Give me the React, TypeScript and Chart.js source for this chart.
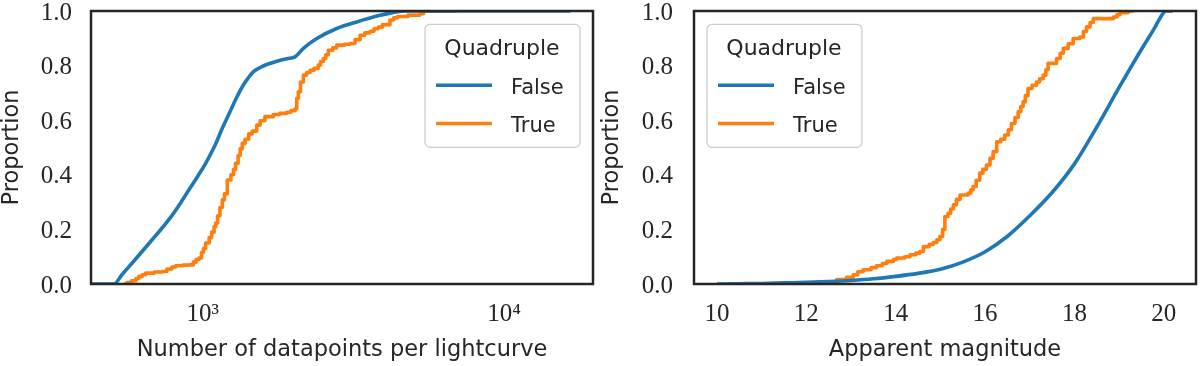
import React, { useEffect, useRef } from "react";
import { Chart, registerables } from "chart.js";

Chart.register(...registerables);

// ---------- data ----------
const legendTitle = "Quadruple";
const seriesLabels = ["False", "True"];

// Left panel: number of datapoints per lightcurve (log axis)
const nptsFalseX = [426, 507, 540, 583, 630, 679, 735, 793, 845, 900, 960, 1022, 1100, 1160, 1231, 1295, 1362, 1420, 1471, 1550, 1630, 1740, 1850, 1940, 2023, 2157, 2389, 2782, 3243, 3875, 4300, 4700, 16600];
const nptsFalseY = [0, 0, 0.035, 0.077, 0.12, 0.162, 0.207, 0.253, 0.298, 0.345, 0.393, 0.442, 0.51, 0.57, 0.631, 0.683, 0.728, 0.757, 0.777, 0.793, 0.804, 0.814, 0.822, 0.827, 0.832, 0.863, 0.899, 0.936, 0.96, 0.984, 0.995, 1.0, 1.0];

const nptsTrueX = [547, 560, 580, 600, 614, 630, 646, 690, 734, 760, 790, 813, 860, 900, 930, 950, 971, 990, 1005, 1022, 1050, 1070, 1090, 1104, 1120, 1140, 1161, 1180, 1206, 1240, 1265, 1285, 1310, 1330, 1352, 1381, 1420, 1459, 1510, 1550, 1607, 1714, 1800, 1898, 1960, 2023, 2050, 2075, 2110, 2157, 2210, 2270, 2340, 2417, 2460, 2512, 2560, 2610, 2700, 2782, 2950, 3081, 3200, 3327, 3450, 3589, 3700, 3823, 3950, 4180, 4300, 4430, 4800, 5260, 5400, 6950];
const nptsTrueY = [0, 0.005, 0.012, 0.02, 0.028, 0.034, 0.04, 0.044, 0.046, 0.055, 0.062, 0.067, 0.069, 0.07, 0.08, 0.09, 0.095, 0.115, 0.13, 0.15, 0.17, 0.19, 0.21, 0.223, 0.25, 0.28, 0.308, 0.33, 0.381, 0.4, 0.42, 0.442, 0.47, 0.495, 0.515, 0.53, 0.55, 0.56, 0.582, 0.598, 0.613, 0.621, 0.625, 0.629, 0.635, 0.641, 0.68, 0.704, 0.74, 0.765, 0.775, 0.783, 0.79, 0.802, 0.815, 0.826, 0.84, 0.856, 0.865, 0.875, 0.878, 0.881, 0.895, 0.911, 0.92, 0.926, 0.935, 0.941, 0.95, 0.967, 0.975, 0.98, 0.985, 0.99, 1.0, 1.0];

const nptsAxisMin = 425.6;
const nptsAxisMax = 19720;
const nptsTickValues = [1000, 10000];
const nptsTickLabels = ["10\u00B3", "10\u2074"];

// Right panel: apparent magnitude
const magFalseX = [10.0, 10.5, 11.0, 11.5, 12.0, 12.5, 13.0, 13.5, 14.0, 14.5, 15.0, 15.5, 16.0, 16.5, 17.0, 17.5, 18.0, 18.5, 19.0, 19.5, 19.8, 19.9, 20.05, 20.2];
const magFalseY = [0, 0.001, 0.002, 0.004, 0.006, 0.009, 0.013, 0.019, 0.028, 0.039, 0.054, 0.08, 0.118, 0.175, 0.25, 0.335, 0.44, 0.575, 0.72, 0.86, 0.94, 0.97, 1.0, 1.0];

const magTrueX = [12.6, 12.68, 12.9, 13.05, 13.15, 13.27, 13.45, 13.57, 13.7, 13.8, 13.95, 14.02, 14.2, 14.32, 14.45, 14.54, 14.62, 14.75, 14.84, 14.92, 14.99, 15.05, 15.1, 15.17, 15.23, 15.29, 15.36, 15.44, 15.62, 15.68, 15.73, 15.8, 15.88, 15.95, 16.03, 16.11, 16.18, 16.26, 16.35, 16.44, 16.52, 16.59, 16.67, 16.74, 16.8, 16.85, 16.9, 16.96, 17.05, 17.15, 17.22, 17.3, 17.36, 17.41, 17.6, 17.68, 17.75, 17.86, 17.97, 18.12, 18.2, 18.27, 18.35, 18.42, 18.87, 18.95, 19.02, 19.2, 19.32];
const magTrueY = [0, 0.016, 0.025, 0.034, 0.045, 0.052, 0.06, 0.067, 0.075, 0.083, 0.09, 0.095, 0.1, 0.107, 0.113, 0.119, 0.137, 0.145, 0.152, 0.162, 0.174, 0.2, 0.247, 0.259, 0.275, 0.29, 0.31, 0.326, 0.333, 0.345, 0.357, 0.38, 0.406, 0.42, 0.436, 0.46, 0.485, 0.521, 0.53, 0.546, 0.565, 0.588, 0.61, 0.631, 0.65, 0.667, 0.69, 0.716, 0.728, 0.74, 0.752, 0.765, 0.785, 0.808, 0.826, 0.845, 0.863, 0.88, 0.899, 0.905, 0.925, 0.942, 0.958, 0.972, 0.978, 0.986, 0.994, 1.0, 1.0];

const magAxisMin = 9.485;
const magAxisMax = 20.72;
const magTickValues = [10, 12, 14, 16, 18, 20];

const propTickValues = [0, 0.2, 0.4, 0.6, 0.8, 1.0];

const xTitleLeft = "Number of datapoints per lightcurve";
const xTitleRight = "Apparent magnitude";
const yTitle = "Proportion";

// ---------- styling ----------
const BLUE = "#1f77b4";
const ORANGE = "#ff7f0e";
const INK = "#262626";
const SANS = "'DejaVu Sans', sans-serif";
const SERIF = "'Liberation Serif', 'DejaVu Serif', serif";

function pts(xs: number[], ys: number[]) {
  return xs.map((x, i) => ({ x, y: ys[i] }));
}

function framePlugin(side: "left" | "right") {
  return {
    id: "frameAndLegend",
    afterDraw(chart: any) {
      const { ctx, chartArea: a } = chart;
      ctx.save();
      // spines
      ctx.strokeStyle = INK;
      ctx.lineWidth = 2.5;
      ctx.strokeRect(a.left, a.top, a.right - a.left, a.bottom - a.top);
      // legend
      const w = 155;
      const h = 123;
      const x = side === "right" ? a.right - 13 - w : a.left + 13;
      const y = a.top + 13.3;
      ctx.beginPath();
      (ctx as any).roundRect(x, y, w, h, 5);
      ctx.fillStyle = "rgba(255,255,255,0.8)";
      ctx.fill();
      ctx.strokeStyle = "#cccccc";
      ctx.lineWidth = 1.3;
      ctx.stroke();
      ctx.fillStyle = INK;
      ctx.font = `22px ${SANS}`;
      ctx.textBaseline = "alphabetic";
      ctx.textAlign = "center";
      ctx.fillText(legendTitle, x + 77, y + 31);
      ctx.font = `21px ${SANS}`;
      chart.data.datasets.forEach((ds: any, i: number) => {
        const ly = y + 61 + i * 38.3;
        ctx.strokeStyle = ds.borderColor;
        ctx.lineWidth = 3.5;
        ctx.beginPath();
        ctx.moveTo(x + 11, ly);
        ctx.lineTo(x + 67, ly);
        ctx.stroke();
        ctx.textAlign = "left";
        ctx.fillStyle = INK;
        ctx.fillText(ds.label, x + 86, ly + 8.3);
      });
      ctx.restore();
    },
  };
}

function makeConfig(panel: "left" | "right"): any {
  const isLeft = panel === "left";
  const falseData = isLeft ? pts(nptsFalseX, nptsFalseY) : pts(magFalseX, magFalseY);
  const trueData = isLeft ? pts(nptsTrueX, nptsTrueY) : pts(magTrueX, magTrueY);
  const yWidth = isLeft ? 91 : 94;
  const xCommon = {
    grid: { display: false, drawTicks: false },
    border: { display: false },
    afterFit: (s: any) => {
      s.height = 82;
      s.paddingLeft = 0;
      s.paddingRight = 0;
    },
  };
  const xTickBase = {
    autoSkip: false,
    maxRotation: 0,
    padding: 15,
    color: INK,
    font: { family: SERIF, size: 25 },
  };
  return {
    type: "line",
    data: {
      datasets: [
        {
          label: seriesLabels[0],
          data: falseData,
          borderColor: BLUE,
          backgroundColor: BLUE,
          borderWidth: 3.6,
          pointRadius: 0,
          cubicInterpolationMode: "monotone",
          borderJoinStyle: "round",
          fill: false,
        },
        {
          label: seriesLabels[1],
          data: trueData,
          borderColor: ORANGE,
          backgroundColor: ORANGE,
          borderWidth: 3.6,
          pointRadius: 0,
          stepped: "before",
          borderJoinStyle: "round",
          fill: false,
        },
      ],
    },
    options: {
      animation: false,
      responsive: false,
      maintainAspectRatio: false,
      devicePixelRatio: 1,
      layout: { padding: { top: 11, right: isLeft ? 7 : 4, left: 0, bottom: 0 } },
      plugins: { legend: { display: false }, tooltip: { enabled: false } },
      events: [],
      scales: {
        x: isLeft
          ? {
              ...xCommon,
              type: "logarithmic",
              min: nptsAxisMin,
              max: nptsAxisMax,
              ticks: {
                ...xTickBase,
                callback: (v: number) => {
                  const i = nptsTickValues.indexOf(v);
                  return i >= 0 ? nptsTickLabels[i] : "";
                },
              },
              afterBuildTicks: (s: any) => {
                s.ticks = nptsTickValues.map((v) => ({ value: v }));
              },
              title: {
                display: true,
                text: xTitleLeft,
                color: INK,
                font: { family: SANS, size: 22.5, lineHeight: 1 },
                padding: { top: 0, bottom: 4.5 },
              },
            }
          : {
              ...xCommon,
              type: "linear",
              min: magAxisMin,
              max: magAxisMax,
              ticks: {
                ...xTickBase,
                callback: (v: number) => String(v),
              },
              afterBuildTicks: (s: any) => {
                s.ticks = magTickValues.map((v) => ({ value: v }));
              },
              title: {
                display: true,
                text: xTitleRight,
                color: INK,
                font: { family: SANS, size: 22.5, lineHeight: 1 },
                padding: { top: 0, bottom: 4.5 },
              },
            },
        y: {
          type: "linear",
          min: 0,
          max: 1,
          grid: { display: false, drawTicks: false },
          border: { display: false },
          ticks: {
            padding: isLeft ? 19 : 21,
            labelOffset: 2,
            color: INK,
            font: { family: SERIF, size: 25, lineHeight: 0.8 },
            callback: (v: number) => Number(v).toFixed(1),
          },
          afterBuildTicks: (s: any) => {
            s.ticks = propTickValues.map((v) => ({ value: v }));
          },
          afterFit: (s: any) => {
            s.width = yWidth;
            s.paddingTop = 0;
            s.paddingBottom = 0;
          },
          title: {
            display: true,
            text: yTitle,
            color: INK,
            font: { family: SANS, size: 22.5, lineHeight: 1 },
            padding: { top: 0.5, bottom: 0 },
          },
        },
      },
    },
    plugins: [framePlugin(isLeft ? "right" : "left")],
  };
}

export default function App() {
  const leftRef = useRef<HTMLCanvasElement | null>(null);
  const rightRef = useRef<HTMLCanvasElement | null>(null);

  useEffect(() => {
    const charts: Chart[] = [];
    if (leftRef.current) charts.push(new Chart(leftRef.current, makeConfig("left")));
    if (rightRef.current) charts.push(new Chart(rightRef.current, makeConfig("right")));
    return () => {
      charts.forEach((c) => c.destroy());
    };
  }, []);

  return (
    <div
      style={{
        position: "fixed",
        left: 0,
        top: 0,
        width: 1200,
        height: 366,
        background: "#ffffff",
        overflow: "hidden",
      }}
    >
      <canvas
        ref={leftRef}
        width={600}
        height={366}
        style={{ position: "absolute", left: 0, top: 0, width: 600, height: 366 }}
      />
      <canvas
        ref={rightRef}
        width={600}
        height={366}
        style={{ position: "absolute", left: 600, top: 0, width: 600, height: 366 }}
      />
    </div>
  );
}
